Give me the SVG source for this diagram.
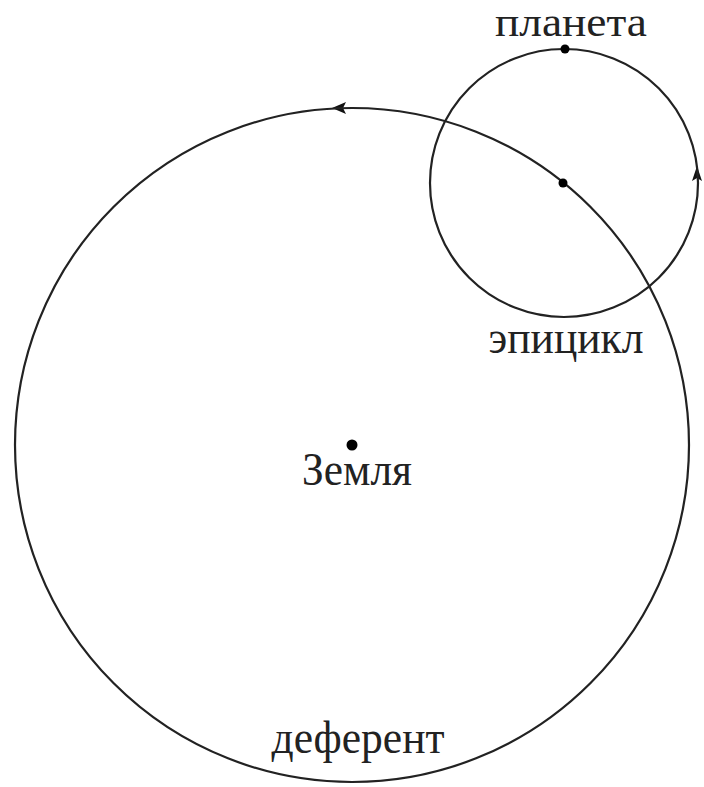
<svg xmlns="http://www.w3.org/2000/svg" width="704" height="787" viewBox="0 0 704 787">
<style>
.orbit{fill:none;stroke:#222;stroke-width:2.2}
.dot{fill:#000}
.lbl{font-family:"Liberation Serif","Times New Roman",serif;font-size:46px;fill:#222}
.arr{fill:#111}
</style>
<rect width="704" height="787" fill="#fff"/>
<g id="connectors">
<path class="arr" d="M332,108 L346,102 L343,108 L346,114 Z"/>
<path class="arr" d="M697,166 L702,181 L697,178 L692,181 Z"/>
</g>
<g id="deferent">
<circle class="orbit" cx="352" cy="445" r="337"/>
<text class="lbl" x="358" y="753" text-anchor="middle" textLength="173" lengthAdjust="spacingAndGlyphs">деферент</text>
</g>
<g id="epicycle">
<circle class="orbit" cx="564" cy="183" r="134"/>
<circle class="dot" cx="563" cy="183" r="4.5"/>
<text class="lbl" x="566" y="353" text-anchor="middle" textLength="155" lengthAdjust="spacingAndGlyphs">эпицикл</text>
</g>
<g id="earth">
<circle class="dot" cx="352" cy="445" r="5.5"/>
<text class="lbl" x="357" y="485" text-anchor="middle" textLength="110" lengthAdjust="spacingAndGlyphs">Земля</text>
</g>
<g id="planet">
<circle class="dot" cx="565" cy="49" r="4.5"/>
<text class="lbl" x="571" y="36" text-anchor="middle" style="font-size:42px" textLength="152" lengthAdjust="spacingAndGlyphs">планета</text>
</g>
</svg>
